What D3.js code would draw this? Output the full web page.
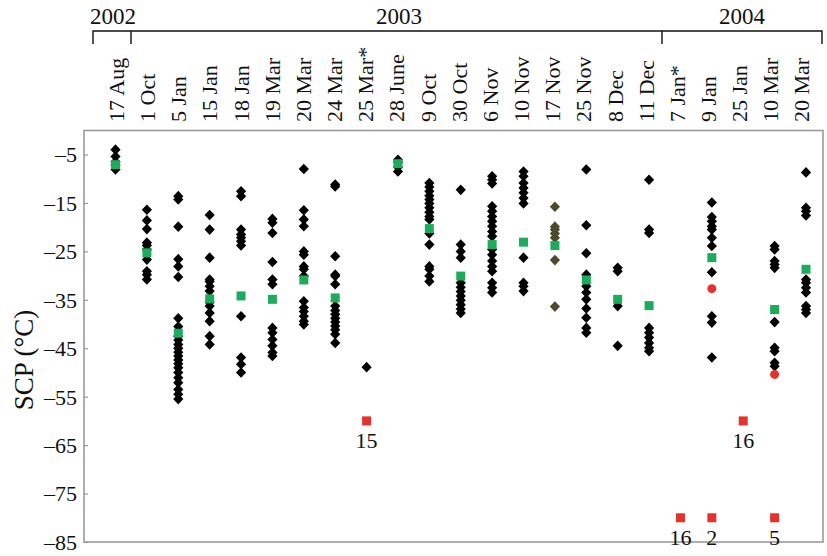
<!DOCTYPE html>
<html lang="en">
<head>
<meta charset="utf-8" />
<title>SCP by sampling date</title>
<script src="https://cdn.jsdelivr.net/npm/d3@7"></script>
<style>
  body { margin: 0; background: #fff; }
  svg text { font-family: "Liberation Serif", "Times New Roman", serif; fill: #111; }
  .frame { fill: none; stroke: #9a9a9a; stroke-width: 1.6px; }
  .bracket { fill: none; stroke: #111; stroke-width: 1.4px; }
</style>
</head>
<body>
<div id="chart"></div>
<script>
var width = 827, height = 556;

// sampling dates (x categories)
var dates = ["17 Aug", "1 Oct", "5 Jan", "15 Jan", "18 Jan", "19 Mar", "20 Mar", "24 Mar",
  "25 Mar*", "28 June", "9 Oct", "30 Oct", "6 Nov", "10 Nov", "17 Nov", "25 Nov",
  "8 Dec", "11 Dec", "7 Jan*", "9 Jan", "25 Jan", "10 Mar", "20 Mar"];
var dateKeys = dates.map(function(d, i) { return i; });

// years spanning the dates: [label, first index, last index]
var years = [["2002", 0, 0], ["2003", 1, 17], ["2004", 18, 22]];

// individual supercooling points (°C) per date
var scpValues = [
  [-4.0, -5.4, -6.5, -7.2, -8.1],
  [-16.4, -18.6, -20.4, -23.2, -23.8, -24.6, -26.7, -29.1, -29.8, -30.8],
  [-13.6, -14.3, -19.9, -26.6, -28.1, -30.3, -38.8, -40.5, -42.5, -43.3, -44.2, -45.0, -45.8, -46.6,
   -47.4, -48.2, -49.0, -50.0, -51.1, -52.1, -53.5, -54.5, -55.5],
  [-17.5, -20.5, -26.3, -30.8, -31.2, -32.2, -33.2, -35.5, -36.3, -37.7, -39.4, -42.5, -44.2],
  [-12.6, -13.6, -20.5, -21.5, -22.2, -22.9, -23.8, -38.4, -46.9, -48.3, -50.0],
  [-18.3, -19.1, -21.2, -27.2, -30.8, -31.8, -40.8, -41.8, -43.2, -44.5, -45.9, -46.6],
  [-8.0, -16.5, -18.4, -19.8, -25.0, -25.7, -28.1, -28.7, -30.1, -35.3, -36.6, -37.4, -38.4, -39.4, -40.1],
  [-11.2, -11.6, -26.0, -29.8, -30.1, -31.8, -36.3, -37.2, -38.0, -38.8, -39.6, -40.4, -41.2, -42.1, -43.9],
  [-48.9],
  [-6.1, -6.6, -7.6, -8.5],
  [-10.9, -11.7, -12.6, -13.5, -14.3, -15.1, -16.0, -16.9, -17.8, -18.4, -21.3, -23.6, -28.1, -28.7, -30.1, -31.2],
  [-12.3, -23.6, -25.0, -26.3, -31.5, -32.4, -33.3, -34.2, -35.1, -36.0, -36.9, -37.7],
  [-9.5, -10.2, -11.0, -15.7, -16.7, -17.8, -18.8, -19.8, -20.9, -21.9, -24.6, -25.7, -27.0, -28.1,
   -29.1, -31.5, -32.5, -33.5],
  [-8.5, -9.5, -10.9, -11.9, -12.9, -14.0, -15.1, -26.3, -31.5, -32.2, -33.2],
  [-15.8, -19.9, -20.5, -21.3, -22.2, -26.8, -36.4],
  [-8.1, -19.6, -25.4, -29.8, -32.2, -33.5, -34.9, -36.8, -38.7, -40.8, -41.8],
  [-28.4, -29.1, -36.3, -44.5],
  [-10.2, -20.5, -21.2, -40.8, -41.8, -42.8, -43.9, -44.9, -45.6],
  [],
  [-14.9, -17.9, -18.8, -19.8, -20.5, -22.2, -23.9, -29.3, -38.4, -39.7, -46.9],
  [],
  [-23.9, -24.6, -27.0, -27.7, -28.4, -39.6, -44.9, -45.6, -48.0, -48.7],
  [-8.7, -16.0, -16.7, -17.6, -30.8, -31.5, -32.5, -33.5, -36.3, -37.0, -37.7]
];

// mean SCP per date (null where none is shown)
var meanValues = [-7.1, -25.3, -41.9, -34.8, -34.2, -34.9, -30.9, -34.6, null, -6.9, -20.3, -30.1,
  -23.6, -23.1, -23.8, -30.9, -34.9, -36.2, null, -26.3, null, -37.0, -28.7];

// dates drawn with olive points instead of black
var oliveDates = [14];

// red squares: [date index, SCP, count label]
var redSquares = [[8, -60, "15"], [20, -60, "16"], [18, -80, "16"], [19, -80, "2"], [21, -80, "5"]];
// red circles: [date index, SCP]
var redCircles = [[19, -32.7], [21, -50.4]];

var yTicks = [-5, -15, -25, -35, -45, -55, -65, -75, -85];

var plot = { left: 84, right: 823, top: 130.5, bottom: 542 };

var x = d3.scalePoint().domain(dateKeys).range([115.5, 806]);
var xLabel = d3.scalePoint().domain(dateKeys).range([116.5, 802]);
var y = d3.scaleLinear().domain([-5, -85]).range([154.5, 542]);

var svg = d3.select("#chart").append("svg")
    .attr("width", width)
    .attr("height", height);

// frame
svg.append("rect")
    .attr("class", "frame")
    .attr("x", plot.left)
    .attr("y", plot.top)
    .attr("width", plot.right - plot.left)
    .attr("height", plot.bottom - plot.top);

// y axis, ticks pointing into the plot
var yAxis = svg.append("g")
    .attr("transform", "translate(" + plot.left + ",0)")
    .call(d3.axisRight(y).tickValues(yTicks).tickSize(4).tickFormat(""));
yAxis.select(".domain").remove();
yAxis.selectAll("line").attr("stroke", "#9a9a9a").attr("stroke-width", 1.2);

svg.append("g").selectAll("text")
    .data(yTicks)
    .join("text")
    .attr("x", 77)
    .attr("y", function(d) { return y(d); })
    .attr("dy", "0.36em")
    .attr("text-anchor", "end")
    .style("font-size", "22px")
    .text(function(d) { return "\u2013" + Math.abs(d); });

svg.append("text")
    .attr("transform", "translate(33,360) rotate(-90)")
    .attr("text-anchor", "middle")
    .style("font-size", "27px")
    .text("SCP (\u00b0C)");

// date labels
svg.append("g").selectAll("text")
    .data(dates)
    .join("text")
    .attr("transform", function(d, i) { return "translate(" + xLabel(i) + ",122) rotate(-90)"; })
    .attr("dy", "0.34em")
    .attr("text-anchor", "start")
    .style("font-size", "22px")
    .text(function(d) { return d; });

// year brackets
var edges = [93, 131, 662, 822];
svg.append("path")
    .attr("class", "bracket")
    .attr("d", "M" + edges[0] + ",44V31H" + edges[3] + "V44" +
      "M" + edges[1] + ",31V44M" + edges[2] + ",31V44");

svg.append("g").selectAll("text")
    .data(years)
    .join("text")
    .attr("x", function(d, i) { return i === 0 ? 113 : (i === 1 ? 399 : 742); })
    .attr("y", 24)
    .attr("text-anchor", "middle")
    .style("font-size", "23px")
    .text(function(d) { return d[0]; });

// individual points
var diamond = "M0,-5.3L5.1,0L0,5.3L-5.1,0Z";
var pts = [];
scpValues.forEach(function(vals, i) {
  vals.forEach(function(v) { pts.push({ i: i, v: v }); });
});

svg.append("g").selectAll("path")
    .data(pts)
    .join("path")
    .attr("d", diamond)
    .attr("transform", function(d) { return "translate(" + x(d.i) + "," + y(d.v) + ")"; })
    .attr("fill", function(d) { return oliveDates.indexOf(d.i) >= 0 ? "#4c4a2b" : "#000"; });

// means
svg.append("g").selectAll("rect")
    .data(meanValues.map(function(v, i) { return { i: i, v: v }; }).filter(function(d) { return d.v !== null; }))
    .join("rect")
    .attr("x", function(d) { return x(d.i) - 4.5; })
    .attr("y", function(d) { return y(d.v) - 4.5; })
    .attr("width", 9)
    .attr("height", 9)
    .attr("fill", "#1cad5c");

// red circles
svg.append("g").selectAll("circle")
    .data(redCircles)
    .join("circle")
    .attr("cx", function(d) { return x(d[0]); })
    .attr("cy", function(d) { return y(d[1]); })
    .attr("r", 4.5)
    .attr("fill", "#e5322d");

// red squares with counts
svg.append("g").selectAll("rect")
    .data(redSquares)
    .join("rect")
    .attr("x", function(d) { return x(d[0]) - 4.5; })
    .attr("y", function(d) { return y(d[1]) - 4.5; })
    .attr("width", 9)
    .attr("height", 9)
    .attr("fill", "#e5322d");

svg.append("g").selectAll("text")
    .data(redSquares)
    .join("text")
    .attr("x", function(d) { return x(d[0]); })
    .attr("y", function(d) { return y(d[1]) + 27; })
    .attr("text-anchor", "middle")
    .style("font-size", "22px")
    .text(function(d) { return d[2]; });
</script>
</body>
</html>
